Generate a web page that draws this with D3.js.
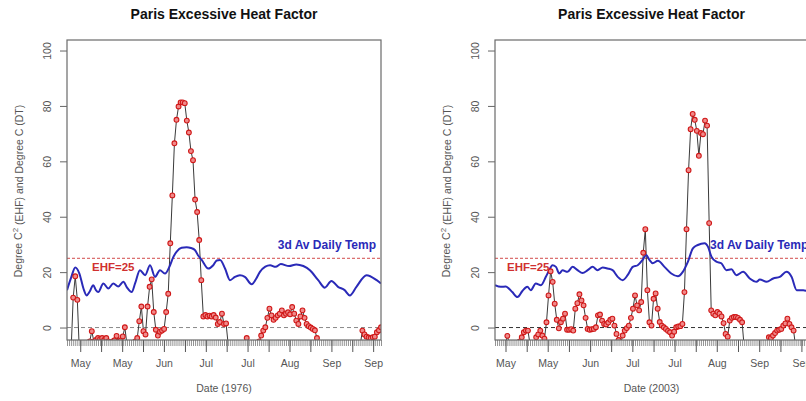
<!DOCTYPE html>
<html><head><meta charset="utf-8">
<script src="https://cdn.jsdelivr.net/npm/d3@7"></script>
<style>body{margin:0;background:#fff}svg{display:block}</style>
</head><body>
<script>
// ---- DATA ----
// Daily Excessive Heat Factor, day index 0 = 1 May .. 152 = 30 Sep (values below the axis are off-plot)
const ehf1976 = [
 -9,-9,-8,10.8,18.5,10,-9,-9,-8,-7,
 -6,-5,-1.3,-5,-4.5,-3.8,-4.2,-3.8,-4.5,-3.8,
 -5,-6,-5,-4.6,-3,-5,-4.6,-3.2,0.1,-6,
 -8,-7,-6,-5,-3.8,2.3,7.6,-1.3,-2.5,7.6,
 14.7,17.4,5.6,-0.8,-2.9,-1.5,-1.1,-0.5,5.6,12.2,
 30.4,47.7,66.5,75,79.8,81.3,81.3,81,74.7,70.4,
 63.7,60.4,46.2,41.7,31.6,17.1,4,4.5,4,4.3,
 4,4.5,3.6,1.3,2,5,1.3,1.5,-6,-9,
 -10,-10,-9,-8,-7,-6,-6,-3.8,-6,-8,
 -9,-8,-7,-5,-2.9,-1.1,0.1,3.5,6.8,4.4,
 2.8,3.5,4.4,5,6.2,4.4,5,5.5,4.8,7.4,
 5,2.5,1.3,4,6.2,3.5,1.3,0.5,0,-0.5,
 -1,-3.8,-8,-9,-10,-10,-9,-10,-10,-9,
 -8,-9,-10,-10,-9,-8,-9,-10,-9,-8,
 -7,-7,-6,-1.1,-2.5,-3.3,-3.6,-3.8,-3.5,-3.3,
 -1.7,-1,0.1
];
const ehf2003 = [
 -9,-9,-8,-8,-7,-6,-3,-6,-8,-8,
 -7,-6,-5,-3.5,-1.7,-1.1,-1.1,-6,-7,-6,
 -3.5,-2.5,-1.1,-2.9,-4,1.9,11.6,20.3,16.5,8.6,
 2.8,-0.3,1.9,3.2,5,-0.8,-0.8,-0.6,-1.1,6.8,
 8.8,12,9.8,8,3.5,-0.5,-0.8,-0.6,-0.5,0.1,
 4.4,4.7,2.5,1.3,1.1,1.8,2.8,3.2,0.7,-2.3,
 -4.5,-6,-2.9,-1.1,-0.2,0.7,3.5,6.8,11.6,8,
 6.2,9.2,27,35.5,13.5,1.9,0.7,10.4,12.3,6.8,
 2,0.7,0.1,-0.5,-1.2,-1.7,-2.9,-1.5,0.1,0.4,
 0.5,1.3,12.8,35.5,56.8,71.6,77.1,75,71,62,
 70.2,69.8,74.7,72.9,37.7,6.2,5,4.4,5.6,5,
 4,1.6,-2.3,-3.3,2.5,3.5,3.8,3.8,3.5,2.8,
 1.9,-7,-9,-10,-10,-9,-10,-10,-9,-8,
 -9,-8,-6,-3.5,-3.8,-2.9,-2,-1.1,-0.8,-0.5,
 0.7,1.5,3.2,1.3,0.1,-1.1,-7,-9,-10,-10,
 -9,-8,-9
];
// 3-day average daily temperature (day index, value)
const tempDays1976 = [0,2,4,6,8,9.5,11,12.7,14,15.1,17.6,20,22.4,24.8,27.3,29,31.3,33,35.3,37.8,40.2,42.6,45,47.4,49.9,51.5,53.1,55.5,57.9,60,61.9,63.5,65.2,68.4,70.8,72.5,74.1,76.5,78.9,81.3,83.7,86.1,89.4,91.5,93.4,96,98.3,101,103.5,107.5,111,114.4,117.6,121.6,124.8,128,131.2,134.4,136.9,140.1,145,149.9,152];
const temp1976 = [13.5,18,21.7,19.5,14,11.6,13,15.3,13.5,12.8,15.9,14.1,15.9,14.8,16.5,14.5,12.8,16,20.7,18.9,22.5,18.3,20.7,19.5,22.5,25.5,27.4,28.8,29,28.7,28,26,24.4,21.3,22.5,24.2,24.4,21.3,17.1,18.3,18.9,18.3,15.6,17.5,20.1,22,22.5,21.9,22.9,22.2,22.8,22.2,20.7,17.1,14.4,16.8,14.7,13.5,11.6,14.7,18.9,17.1,15.9];
const tempDays2003 = [0,2.8,5.2,6.8,8.4,10.9,13.3,15.7,17.4,19.8,22.3,24.7,26.3,27.9,29.6,31.2,32.8,35.2,37.7,40.1,42.5,45,47.4,49.8,52.3,54.7,57.1,59.6,62,64.4,66.9,69.3,71.7,73.4,75,76.6,79.1,82.3,85.6,88.8,91.2,93.7,96.1,98.5,101.8,103.4,105.1,107.5,109.9,112.4,114.8,117.2,120.5,123.7,127,128.6,131.9,135.1,138.3,141.6,144,146.5,149.7,152];
const temp2003 = [15.3,14.7,14.8,14,12.8,11,13.2,14.7,13.5,15.9,15.3,18.3,20.7,22.5,21.9,19.5,20.7,20.1,21.9,20.7,19.7,20.7,21.9,20.7,21.7,21.3,20.7,18.3,17.1,18.9,21.9,22.5,24.4,26.2,24.4,23.2,24.1,21.9,19.5,18.5,20.1,23.8,28.6,29.8,30.4,29.2,25.6,23.8,23.2,20.7,21,18.9,20.1,17.7,16.5,17.3,16.5,17.7,18.3,20.1,18.3,13.5,13.5,13];
// axis ticks
const yTicks = [0,20,40,60,80,100];
const xTicks1976 = [6.4,16.5,26.7,36.8,46.9,57.1,67.2,77.3,87.4,97.6,107.7,117.8,128,138.1,148.2];
const xTicks2003 = [5.1,15.4,25.6,35.9,46.2,56.4,66.7,77,87.2,97.5,107.7,118,128.3,138.6,148.8];
const xTickLabels = ["May","","May","","Jun","","Jul","","Jul","","Aug","","Sep","","Sep"];
const ehfThreshold = 25;
const titles = ["Paris Excessive Heat Factor","Paris Excessive Heat Factor"];
const xTitles = ["Date (1976)","Date (2003)"];
const yTitle = ["Degree C","2"," (EHF) and Degree C (DT)"];
const tempLabel = "3d Av Daily Temp";
const ehfLabel = "EHF=25";

// ---- DRAW ----
const W = 806, H = 401;
const FONT = "'Liberation Sans', Arial, sans-serif";
const svg = d3.select("body").append("svg").attr("width", W).attr("height", H)
  .style("font-family", FONT);
const defs = svg.append("defs");

function panel(idx, x0, x1, ehf, tDays, tVals, xTicks, zeroColor) {
  const top = 40, bottom = 340;
  const x = d3.scaleLinear().domain([0, ehf.length - 1]).range([x0, x1]);
  const y = d3.scaleLinear().domain([-4.5, 103.8]).range([bottom, top]);
  const g = svg.append("g");
  const cid = "clip" + idx;
  defs.append("clipPath").attr("id", cid).append("rect")
    .attr("x", x0).attr("y", top).attr("width", x1 - x0).attr("height", bottom - top);
  const pg = g.append("g").attr("clip-path", `url(#${cid})`);

  // reference lines
  pg.append("line").attr("x1", x0).attr("x2", x1).attr("y1", y(0)).attr("y2", y(0))
    .attr("stroke", zeroColor).attr("stroke-width", 1).attr("stroke-dasharray", "4,3");
  pg.append("line").attr("x1", x0).attr("x2", x1).attr("y1", y(ehfThreshold)).attr("y2", y(ehfThreshold))
    .attr("stroke", "#d24a4a").attr("stroke-width", 1).attr("stroke-dasharray", "3,2");

  // EHF line
  const ehfLine = d3.line().x((d, i) => x(i)).y(d => y(d));
  pg.append("path").datum(ehf).attr("d", ehfLine).attr("fill", "none")
    .attr("stroke", "#3a3a3a").attr("stroke-width", 1);

  // temperature line
  const tData = tDays.map((d, i) => [d, tVals[i]]);
  pg.append("path").datum(tData)
    .attr("d", d3.line().x(d => x(d[0])).y(d => y(d[1])).curve(d3.curveMonotoneX))
    .attr("fill", "none").attr("stroke", "#2a2ab8").attr("stroke-width", 2);

  // EHF points
  pg.selectAll("circle.p").data(ehf).join("circle").attr("class", "p")
    .attr("cx", (d, i) => x(i)).attr("cy", d => y(d)).attr("r", 2.4)
    .attr("fill", "#f08a8a").attr("stroke", "#d01818").attr("stroke-width", 1.1);

  // y axis
  const ya = g.append("g").attr("transform", `translate(${x0},0)`)
    .call(d3.axisLeft(y).tickValues(yTicks).tickSize(7).tickPadding(0));
  ya.select(".domain").remove();
  ya.selectAll("line").attr("stroke", "#666");
  ya.selectAll(".tick text").attr("x", 0).attr("y", 0).attr("dy", "0.35em")
    .attr("text-anchor", "middle").attr("transform", "translate(-20,0) rotate(-90)")
    .attr("fill", "#555").style("font-size", "10.5px").style("font-family", FONT);

  // x axis: daily minor ticks
  const xm = g.append("g").attr("transform", `translate(0,${bottom})`)
    .call(d3.axisBottom(x).tickValues(d3.range(0, ehf.length)).tickSize(6).tickFormat(""));
  xm.select(".domain").remove();
  xm.selectAll("line").attr("stroke", "#777").attr("stroke-width", 0.8);
  // major ticks with labels
  const xa = g.append("g").attr("transform", `translate(0,${bottom})`)
    .call(d3.axisBottom(x).tickValues(xTicks).tickSize(12).tickPadding(12)
      .tickFormat((d, i) => xTickLabels[i]));
  xa.select(".domain").remove();
  xa.selectAll("line").attr("stroke", "#555");
  xa.selectAll("text").attr("fill", "#555").style("font-size", "10.5px").style("font-family", FONT)
    .attr("y", 23).attr("dy", "0.35em");

  // box
  g.append("rect").attr("x", x0).attr("y", top).attr("width", x1 - x0).attr("height", bottom - top)
    .attr("fill", "none").attr("stroke", "#6a6a6a").attr("stroke-width", 1.2);

  const cx = (x0 + x1) / 2;
  g.append("text").attr("x", cx).attr("y", 19).attr("text-anchor", "middle")
    .style("font-size", "14px").style("font-weight", "bold").attr("fill", "#111").text(titles[idx]);
  g.append("text").attr("x", cx).attr("y", 388).attr("dy", "0.35em").attr("text-anchor", "middle")
    .style("font-size", "10.5px").attr("fill", "#555").text(xTitles[idx]);

  const yt = g.append("text").attr("transform", `translate(${x0 - 49},191) rotate(-90)`)
    .attr("text-anchor", "middle").attr("dy", "0.35em").style("font-size", "10.5px").attr("fill", "#555");
  yt.append("tspan").text(yTitle[0]);
  yt.append("tspan").attr("dy", "-0.45em").style("font-size", "8px").text(yTitle[1]);
  yt.append("tspan").attr("dy", "0.45em").text(yTitle[2]);

  // labels
  g.append("text").attr("x", x0 + (idx === 0 ? 25 : 12)).attr("y", y(21.8)).attr("dy", "0.35em")
    .style("font-size", "11.5px").style("font-weight", "bold").attr("fill", "#d03030").text(ehfLabel);
  g.append("text").attr("x", idx === 0 ? x1 - 5 : x0 + 215).attr("y", y(29.7)).attr("dy", "0.35em")
    .attr("text-anchor", idx === 0 ? "end" : "start")
    .style("font-size", "12px").style("font-weight", "bold").attr("fill", "#2a2ab8").text(tempLabel);
}

panel(0, 67, 381, ehf1976, tempDays1976, temp1976, xTicks1976, "#8a8a8a");
panel(1, 495, 808, ehf2003, tempDays2003, temp2003, xTicks2003, "#333");
</script>
</body></html>
